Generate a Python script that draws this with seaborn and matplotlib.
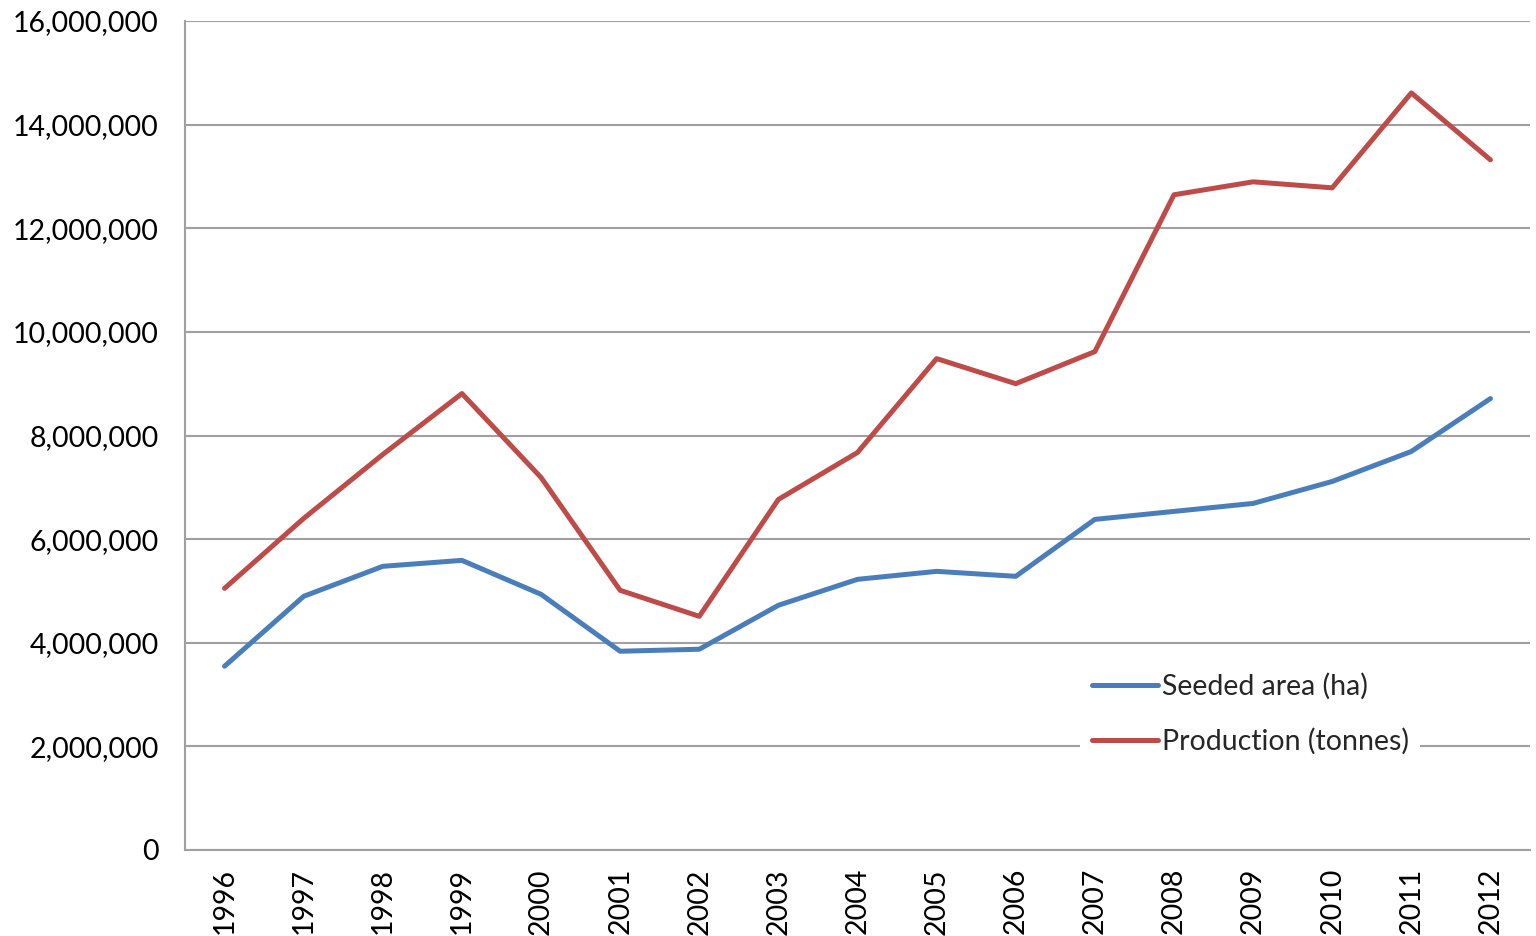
import matplotlib
matplotlib.use("Agg")
import matplotlib.pyplot as plt
import matplotlib.ticker as mticker
import seaborn as sns
import pandas as pd
import numpy as np

years = [str(y) for y in range(1996, 2013)]
seeded_area = [3547000, 4896000, 5475000, 5590000, 4935000, 3836000, 3875000, 4723000,
               5224000, 5378000, 5282000, 6381000, 6535000, 6689000, 7113000, 7692000, 8713000]
production = [5050000, 6400000, 7634000, 8810000, 7190000, 5012000, 4510000, 6766000,
              7672000, 9484000, 9000000, 9619000, 12646000, 12896000, 12780000, 14612000, 13320000]
series_names = ["Seeded area (ha)", "Production (tonnes)"]
colors = ["#4a7ebb", "#be4b48"]

df = pd.DataFrame({
    "idx": list(range(len(years))) * 2,
    "value": seeded_area + production,
    "series": [series_names[0]] * len(years) + [series_names[1]] * len(years),
})

sns.set_theme(style="white")
plt.rcParams["font.family"] = ["Lato", "DejaVu Sans"]

FS = 20.5
LW = 3.6

fig = plt.figure(figsize=(15.36, 9.36), dpi=100)
ax = fig.add_axes([185 / 1536, 1 - 850 / 936, 1345 / 1536, 829 / 936])

sns.lineplot(data=df, x="idx", y="value", hue="series", palette=colors,
             hue_order=series_names, linewidth=LW, ax=ax, legend=True)
for ln in ax.get_lines():
    ln.set_solid_capstyle("round")
    ln.set_solid_joinstyle("round")

grid_c = "#a0a0a0"
ax.set_xlim(-0.5, len(years) - 0.5)
ax.set_ylim(0, 16000000)
ax.yaxis.set_major_locator(mticker.MultipleLocator(2000000))
ax.yaxis.set_major_formatter(mticker.FuncFormatter(lambda v, p: f"{int(v):,}"))
ax.yaxis.grid(True, color=grid_c, linewidth=1.5)
ax.xaxis.grid(False)
ax.set_axisbelow(True)

ax.set_xticks(range(len(years)))
ax.set_xticklabels(years, rotation=90, va="top", ha="center")
ax.set_xticks(np.arange(-0.5, len(years), 1.0), minor=True)
ax.tick_params(axis="x", which="major", length=0, pad=13, labelsize=FS, colors="black")
ax.tick_params(axis="x", which="minor", length=7, width=1.5, color=grid_c, direction="out")
ax.tick_params(axis="y", which="major", length=7, width=1.5, color=grid_c, direction="out",
               pad=12, labelsize=FS, labelcolor="black")
ax.tick_params(axis="x", labelcolor="black")

for s in ["top", "right"]:
    ax.spines[s].set_visible(False)
for s in ["left", "bottom"]:
    ax.spines[s].set_color(grid_c)
    ax.spines[s].set_linewidth(1.5)

ax.set_xlabel("")
ax.set_ylabel("")

handles, labels = ax.get_legend_handles_labels()
for h in handles:
    h.set_linewidth(LW)
    h.set_solid_capstyle("round")
leg = ax.legend(handles, labels, loc="upper left", bbox_to_anchor=(0.6655, 0.228),
                borderaxespad=0, frameon=True, fancybox=False, edgecolor="white",
                facecolor="white", framealpha=1.0, fontsize=FS, handlelength=2.3,
                handletextpad=0.14, labelspacing=1.0, borderpad=0.42)
leg.get_frame().set_linewidth(0)

fig.savefig("out.png", dpi=100)
